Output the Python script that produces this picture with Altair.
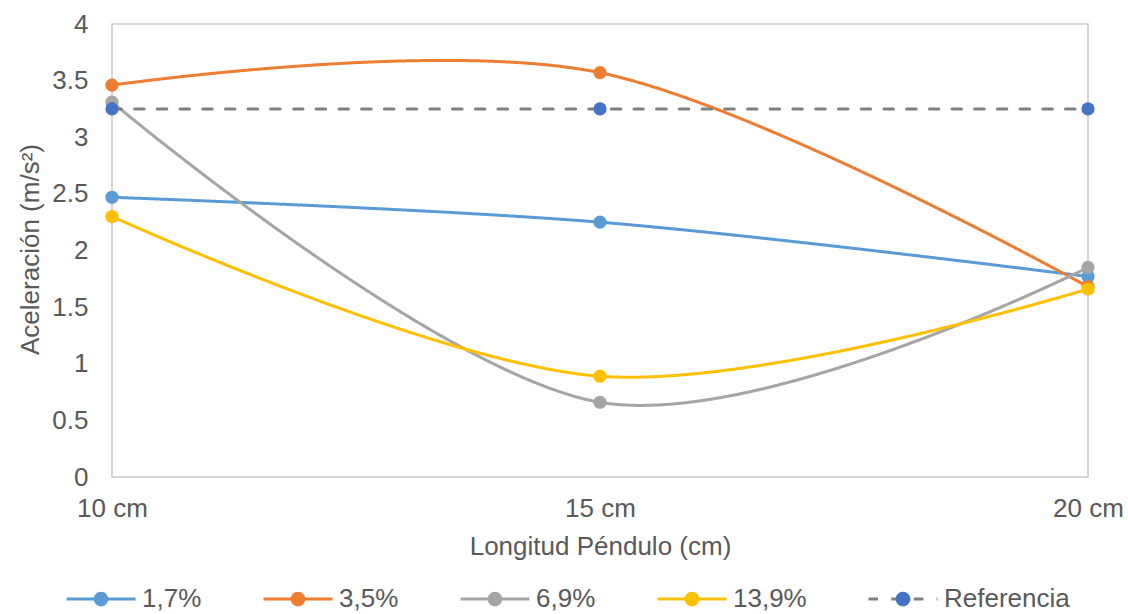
import altair as alt
import pandas as pd

# ---- data ----
longitudes = ["10 cm", "15 cm", "20 cm"]
series = ["1,7%", "3,5%", "6,9%", "13,9%", "Referencia"]
s_17 = [2.47, 2.25, 1.77]
s_35 = [3.46, 3.57, 1.68]
s_69 = [3.31, 0.66, 1.85]
s_139 = [2.30, 0.89, 1.66]
s_ref = [3.25, 3.25, 3.25]
y_ticks = [0, 0.5, 1, 1.5, 2, 2.5, 3, 3.5, 4]

line_colors = ["#5b9bd5", "#ed7d31", "#a5a5a5", "#ffc000", "#7f7f7f"]
point_colors = ["#5b9bd5", "#ed7d31", "#a5a5a5", "#ffc000", "#4472c4"]
dashes = [[1, 0], [1, 0], [1, 0], [1, 0], [9.5, 13.2]]

rows = []
for i, (name, vals) in enumerate(zip(series, [s_17, s_35, s_69, s_139, s_ref])):
    for lon, v in zip(longitudes, vals):
        rows.append({"serie": name, "serie_p": name, "longitud": lon, "valor": v, "idx": i})
df = pd.DataFrame(rows)

FONT = "Liberation Sans"
TXT = "#595959"

line_path = "M-4.93,0H4.93"
dot_path = "M-4.93,0M4.93,0M-1.05,0A1.05,1.05,0,1,0,1.05,0A1.05,1.05,0,1,0,-1.05,0Z"

common_leg = dict(
    orient="none", legendX=-50, legendY=562, direction="horizontal", columns=5,
    title=None, symbolSize=196, symbolStrokeWidth=3, symbolOffset=26,
    labelOffset=28, columnPadding=55, labelFontSize=26, labelFont=FONT,
    labelColor=TXT, padding=0, gridAlign="none",
)

leg_line = alt.Legend(symbolType=line_path, **common_leg)
leg_dot = alt.Legend(symbolType=dot_path, labelOpacity=0, symbolStrokeColor="transparent",
                     symbolOpacity=1, **common_leg)

x_enc = alt.X(
    "longitud:N", sort=longitudes, scale=alt.Scale(type="point", padding=0),
    axis=alt.Axis(title="Longitud Péndulo (cm)", labelAngle=0, ticks=False, domain=False,
                  labelPadding=18, labelFontSize=26, labelFont=FONT, labelColor=TXT,
                  titleFontSize=26, titleFont=FONT, titleColor=TXT, titleFontWeight="normal",
                  titleX=488, titleY=77, titleBaseline="alphabetic", titleAlign="center", grid=False),
)
y_enc = alt.Y(
    "valor:Q", scale=alt.Scale(domain=[0, 4], nice=False),
    axis=alt.Axis(title="Aceleración (m/s²)", values=y_ticks, format="~g", ticks=False, domain=False,
                  grid=False, labelPadding=24, labelFontSize=26, labelFont=FONT, labelColor=TXT,
                  titleFontSize=26, titleFont=FONT, titleColor=TXT, titleFontWeight="normal",
                  titleAngle=270, titleX=-74, titleY=225, titleBaseline="alphabetic", titleAlign="center"),
)

lines = alt.Chart(df).mark_line(interpolate="cardinal", strokeWidth=3, strokeCap="round").encode(
    x=x_enc, y=y_enc,
    stroke=alt.Stroke("serie:N", sort=series, scale=alt.Scale(domain=series, range=line_colors), legend=leg_line),
    strokeDash=alt.StrokeDash("serie:N", sort=series, scale=alt.Scale(domain=series, range=dashes), legend=leg_line),
)
points = alt.Chart(df).mark_point(filled=True, size=175, opacity=1).encode(
    x=x_enc, y=y_enc,
    fill=alt.Fill("serie_p:N", sort=series, scale=alt.Scale(range=point_colors), legend=leg_dot),
    order=alt.Order("idx:Q"),
)

chart = alt.layer(lines, points).properties(
    width=976, height=453,
    autosize=alt.AutoSizeParams(type="none"),
    padding={"left": 112, "top": 24, "right": 40, "bottom": 137},
    background="white",
).configure_view(stroke="#c6c6c6", strokeWidth=1.5)

chart.save("out.html", embed_options={"renderer": "svg", "actions": False})
